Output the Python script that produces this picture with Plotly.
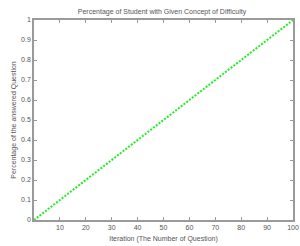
import plotly.graph_objects as go

iterations = [0, 10, 20, 30, 40, 50, 60, 70, 80, 90, 100]
percentage = [0.0, 0.1, 0.2, 0.3, 0.4, 0.5, 0.6, 0.7, 0.8, 0.9, 1.0]
x_ticks = [10, 20, 30, 40, 50, 60, 70, 80, 90, 100]
y_ticks = [0, 0.1, 0.2, 0.3, 0.4, 0.5, 0.6, 0.7, 0.8, 0.9, 1]
y_tick_labels = ["0", "0.1", "0.2", "0.3", "0.4", "0.5", "0.6", "0.7", "0.8", "0.9", "1"]

fig = go.Figure()
fig.add_trace(go.Scatter(x=iterations, y=percentage, mode="lines",
                         line=dict(color="#22ee22", width=2, dash="2px,1.5px")))

axis_common = dict(showline=True, linecolor="#9a9a9a", linewidth=1.5, mirror="ticks",
                   ticks="inside", ticklen=3, tickcolor="#9a9a9a", showgrid=False,
                   zeroline=False, automargin=False,
                   tickfont=dict(size=7, color="#555555", family="Liberation Sans, Arial"))

fig.update_layout(
    template="none",
    width=300, height=246,
    margin=dict(l=34, r=7, t=20, b=26),
    paper_bgcolor="white", plot_bgcolor="white",
    showlegend=False,
    font=dict(family="Liberation Sans, Arial", size=7, color="#555555"),
    title=dict(text="Percentage of Student with Given Concept of Difficulty",
               x=0.54, xanchor="center", y=0.955, yanchor="middle",
               font=dict(size=7, color="#555555"), automargin=False),
    xaxis=dict(range=[0, 100], tickvals=x_ticks,
               title=dict(text="Iteration (The Number of Question)", standoff=6,
                          font=dict(size=7, color="#555555")),
               **axis_common),
    yaxis=dict(range=[0, 1], tickvals=y_ticks, ticktext=y_tick_labels,
               title=dict(text="Percentage of the answered Question", standoff=4,
                          font=dict(size=7, color="#555555")),
               **axis_common),
)

fig.write_html("out.html", config={"displayModeBar": False},
               post_script="document.body.style.margin='0';document.body.style.overflow='hidden';")
